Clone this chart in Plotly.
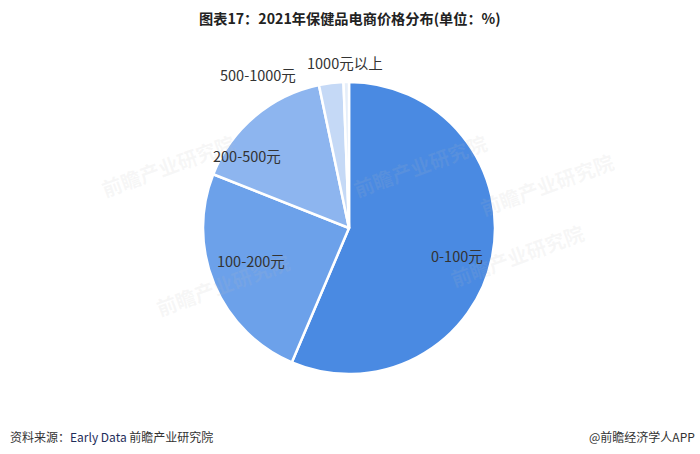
import plotly.graph_objects as go

labels = ["0-100元", "100-200元", "200-500元", "500-1000元", "1000元以上"]
values = [56.4, 24.6, 15.7, 2.7, 0.6]
colors = ["#4A8AE2", "#6CA1EA", "#8DB5EF", "#C5D9F6", "#E5EEFA"]

W, H = 700, 454
cx, cy, r = 349, 228, 146

fig = go.Figure(go.Pie(
    labels=labels, values=values, sort=False, direction="clockwise", rotation=0,
    marker=dict(colors=colors, line=dict(color="white", width=2.5)),
    textinfo="none",
    domain=dict(x=[(cx - r) / W, (cx + r) / W], y=[(H - cy - r) / H, (H - cy + r) / H]),
    showlegend=False, hoverinfo="label+value",
))

# label placement (pixel positions of label centres, layout only)
label_px = [(457, 256), (251, 260), (247, 155), (258, 75), (345, 63)]

anns = [
    dict(text="<b>图表17：2021年保健品电商价格分布(单位：%)</b>", x=0.5, y=(H - 18) / H,
         xref="paper", yref="paper", showarrow=False, xanchor="center", yanchor="middle",
         font=dict(family="Noto Sans CJK SC", size=14.2, color="#222222")),
    dict(text="资料来源：<span style='color:#1f2d5a'>Early Data</span> 前瞻产业研究院", x=8 / W, y=(H - 436) / H,
         xref="paper", yref="paper", showarrow=False, xanchor="left", yanchor="middle",
         font=dict(family="Noto Sans CJK SC", size=12, color="#333333")),
    dict(text="@前瞻经济学人APP", x=697 / W, y=(H - 436) / H,
         xref="paper", yref="paper", showarrow=False, xanchor="right", yanchor="middle",
         font=dict(family="Noto Sans CJK SC", size=12, color="#333333")),
]
wm = [(95, 125), (420, 165), (590, 255), (150, 325), (620, 185)]
for (x, y) in wm:
    anns.append(dict(text="<b>前瞻产业研究院</b>", x=x / W, y=(H - y) / H, xref="paper", yref="paper",
                     showarrow=False, textangle=-20,
                     font=dict(family="Noto Sans CJK SC", size=20, color="rgba(190,190,190,0.12)")))
for lab, (x, y) in zip(labels, label_px):
    anns.append(dict(text=lab, x=x / W, y=(H - y) / H, xref="paper", yref="paper",
                     showarrow=False, xanchor="center", yanchor="middle",
                     font=dict(family="Noto Sans CJK SC", size=14.5, color="#333333")))

fig.update_layout(
    width=W, height=H, margin=dict(l=0, r=0, t=0, b=0),
    paper_bgcolor="white", plot_bgcolor="white",
    annotations=anns,
)
fig.write_html("out.html", config={"displayModeBar": False},
               post_script="document.body.style.margin='0px';document.body.style.overflow='hidden';")
